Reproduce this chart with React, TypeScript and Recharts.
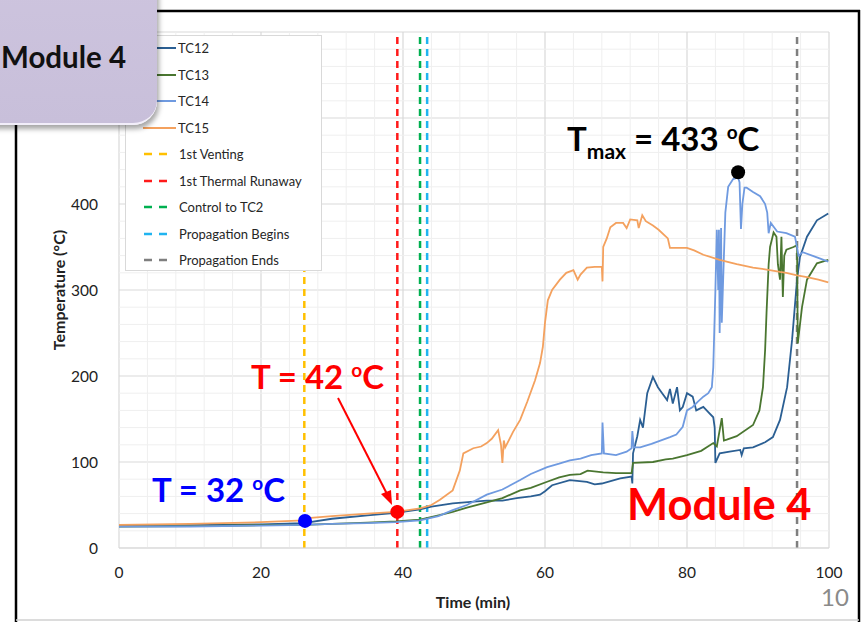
import React from 'react'
import {
  LineChart,
  Line,
  XAxis,
  YAxis,
  CartesianGrid,
  ReferenceLine,
  ReferenceDot,
} from 'recharts'

// Time (min) / temperature (°C) pairs
const tc12 = [
  [0, 26], [10, 26.5], [20, 27.5], [26, 29], [30, 34], [35, 38], [39, 41], [42.4, 45],
  [44, 48], [47, 52], [50, 54], [51.8, 55], [54, 55], [56, 58], [58, 60], [59.3, 62],
  [60, 66], [61, 73], [63.5, 79], [65.9, 77], [67, 74], [68, 75], [70.6, 81], [72.2, 83],
  [72.3, 75], [72.4, 110], [73, 130], [73.4, 149], [73.8, 140], [74.4, 180], [75.2, 199],
  [75.9, 187], [76.5, 180], [77.2, 172], [77.6, 185], [78, 168], [78.6, 187], [79, 160],
  [79.4, 164], [80, 180], [80.8, 176], [81.3, 160], [82.3, 164], [83, 158], [83.7, 152],
  [83.9, 140], [84, 99], [84.6, 110], [86, 112], [87.5, 114], [87.7, 108], [88, 116],
  [89.3, 117], [91, 123], [92.1, 129], [93.1, 149], [94.1, 187], [94.8, 242], [95.5, 312],
  [95.9, 338], [96.9, 362], [98.3, 381], [99.9, 389],
]
const tc13 = [
  [0, 25], [10, 25.5], [20, 26.5], [26, 27], [30, 28], [35, 29.5], [39, 31], [42.4, 33],
  [45, 38], [47, 42], [49, 47], [51.8, 53], [54, 58], [56.5, 67], [58, 70], [60.3, 77],
  [62, 82], [63.5, 85], [65, 86], [66, 90], [68.2, 88], [70, 87], [72.2, 87], [72.4, 99],
  [75.2, 100], [77, 103], [78, 104], [80, 108], [82, 113], [83.7, 122], [84.2, 118],
  [84.9, 151], [85.2, 125], [85.6, 126], [87, 130], [89.3, 143], [90.2, 160], [90.7, 187],
  [91, 230], [91.2, 273], [91.5, 330], [91.7, 350], [92.2, 367], [92.6, 362], [92.8, 330],
  [93.1, 312], [93.3, 362], [93.5, 292], [93.7, 340], [94, 347], [95, 350], [95.5, 352],
  [95.6, 238], [96.2, 280], [96.9, 312], [98.3, 331], [99.9, 335],
]
const tc14 = [
  [0, 25], [10, 25], [20, 26], [26, 27], [30, 28], [35, 29], [39, 30], [42.4, 32],
  [45, 37], [47, 44], [49, 50], [51.8, 62], [54, 68], [56.5, 79], [58, 86], [60.3, 94],
  [62, 98], [63.5, 102], [65, 104], [66.5, 108], [68, 110], [68.1, 146], [68.3, 110],
  [70, 108], [71.5, 112], [72.2, 116], [72.3, 136], [72.5, 117], [73.4, 117], [75, 121],
  [77.6, 129], [78.5, 132], [79.4, 141], [80, 160], [80.8, 164], [81.5, 170], [82.3, 176],
  [83, 180], [83.5, 187], [83.7, 210], [84, 300], [84.2, 370], [84.4, 300], [84.5, 370],
  [84.6, 250], [84.8, 372], [84.9, 262], [85.2, 340], [85.4, 390], [85.8, 420], [86.5, 429],
  [87.2, 431], [87.4, 425], [87.6, 371], [87.8, 400], [88.1, 419], [88.4, 419], [89.3, 414],
  [90.3, 409], [91, 400], [91.3, 390], [91.5, 366], [91.8, 378], [92.7, 368], [94, 366],
  [95.2, 362], [95.5, 350], [95.7, 340], [96.3, 344], [98.3, 338], [99.9, 333],
]
const tc15 = [
  [0, 27], [10, 28], [20, 30], [26, 32], [27, 35], [30, 37], [35, 40], [39, 42], [42.4, 46],
  [44, 50], [45.2, 56], [47, 67], [48, 90], [48.5, 110], [49.9, 116], [51, 118], [51.8, 122],
  [52.5, 127], [53.4, 137], [53.8, 120], [54, 99], [54.2, 125], [54.4, 117], [55.5, 135],
  [56.5, 149], [57.5, 170], [58.6, 195], [59.3, 215], [59.7, 234], [60, 262], [60.4, 288],
  [61, 300], [62.1, 312], [63, 320], [64, 323], [64.6, 312], [65, 318], [65.9, 326],
  [67, 327], [68, 327], [68.1, 310], [68.2, 350], [68.7, 360], [69.2, 373], [70, 378],
  [71, 378], [71.5, 372], [72, 382], [73, 381], [73.2, 372], [73.7, 387], [74.2, 380],
  [75.2, 375], [76, 370], [77.3, 360], [77.6, 349], [78.7, 349], [80, 349], [81, 346],
  [82.3, 341], [84.6, 335], [86, 332], [87, 330], [89.3, 326], [91, 324], [93.1, 321],
  [94, 320], [95.5, 317], [96.9, 315], [98.5, 312], [99.9, 309],
]

const seriesNames = ['TC12', 'TC13', 'TC14', 'TC15']
const seriesData = [tc12, tc13, tc14, tc15]

const eventNames = ['1st Venting', '1st Thermal Runaway', 'Control to TC2', 'Propagation Begins', 'Propagation Ends']
const eventTimes = [26.1, 39.2, 42.4, 43.4, 95.5]

// annotated points: venting, first runaway, max
const markTimes = [26.2, 39.2, 87.2]
const markTemps = [31.5, 42, 437]

const xTicks = [0, 20, 40, 60, 80, 100]
const yTicks = [0, 100, 200, 300, 400, 500, 600]

const seriesColors = ['#2b5f93', '#4a7630', '#6f9ae0', '#f4a15e']
const eventColors = ['#ffc000', '#ff1a1a', '#00b050', '#20b4f0', '#7f7f7f']
const markColors = ['#0000ff', '#ff0000', '#000000']

const FONT = 'Lato, "Open Sans", sans-serif'

// minor gridlines: 5 per major x step, 5 per major y step
const minorX = xTicks.slice(0, -1).flatMap((v) => [4, 8, 12, 16].map((d) => v + d))
const minorY = yTicks.slice(0, -1).flatMap((v) => [20, 40, 60, 80].map((d) => v + d))

function toPoints(arr: number[][]) {
  return arr.map(([t, v]) => ({ t, v }))
}

function LegendBox() {
  return (
    <div
      style={{
        position: 'absolute',
        left: 125,
        top: 35,
        width: 197,
        height: 236,
        background: '#fff',
        border: '1px solid #d9d9d9',
        boxSizing: 'border-box',
        fontFamily: FONT,
        fontSize: 13,
        color: '#262626',
      }}
    >
      {seriesNames.map((n, i) => (
        <div key={n} style={{ position: 'absolute', left: 0, top: 3 + i * 26.5, height: 18, display: 'flex', alignItems: 'center' }}>
          <svg width={50} height={4}>
            <line x1={17} x2={50} y1={2} y2={2} stroke={seriesColors[i]} strokeWidth={2} />
          </svg>
          <span style={{ marginLeft: 2 }}>{n}</span>
        </div>
      ))}
      {eventNames.map((n, i) => (
        <div key={n} style={{ position: 'absolute', left: 0, top: 3 + (i + 4) * 26.5, height: 18, display: 'flex', alignItems: 'center' }}>
          <svg width={50} height={4}>
            <line x1={18} x2={44} y1={2} y2={2} stroke={eventColors[i]} strokeWidth={2.5} strokeDasharray="8 7" />
          </svg>
          <span style={{ marginLeft: 3 }}>{n}</span>
        </div>
      ))}
    </div>
  )
}

export default function App() {
  return (
    <div
      style={{
        position: 'absolute',
        left: 0,
        top: 0,
        width: 862,
        height: 622,
        overflow: 'hidden',
        background: '#fff',
        fontFamily: FONT,
      }}
    >
      <LineChart
        width={862}
        height={622}
        margin={{ top: 32, right: 33, bottom: 44, left: 0 }}
        style={{ fontFamily: FONT }}
      >
        {minorX.map((x) => (
          <ReferenceLine key={'mx' + x} x={x} stroke="#efefef" strokeWidth={1} />
        ))}
        {minorY.map((y) => (
          <ReferenceLine key={'my' + y} y={y} stroke="#efefef" strokeWidth={1} />
        ))}
        <CartesianGrid stroke="#d9d9d9" strokeWidth={1.2} />
        <XAxis
          type="number"
          dataKey="t"
          domain={[0, 100]}
          ticks={xTicks}
          height={30}
          tickLine={false}
          tickSize={0}
          tickMargin={19}
          axisLine={{ stroke: '#d9d9d9' }}
          tick={{ fill: '#222', fontSize: 15.5 }}
          allowDataOverflow
        />
        <YAxis
          type="number"
          domain={[0, 600]}
          ticks={yTicks}
          width={119}
          tickLine={false}
          tickSize={0}
          tickMargin={21}
          axisLine={false}
          tick={{ fill: '#222', fontSize: 15.5 }}
          allowDataOverflow
        />
        {eventTimes.map((t, i) => (
          <ReferenceLine
            key={'ev' + i}
            x={t}
            stroke={eventColors[i]}
            strokeWidth={2.5}
            strokeDasharray="7 5"
          />
        ))}
        {seriesData.map((d, i) => (
          <Line
            key={seriesNames[i]}
            data={toPoints(d)}
            dataKey="v"
            name={seriesNames[i]}
            type="linear"
            stroke={seriesColors[i]}
            strokeWidth={1.8}
            dot={false}
            activeDot={false}
            isAnimationActive={false}
          />
        ))}
        {markTimes.map((t, i) => (
          <ReferenceDot
            key={'mk' + i}
            x={t}
            y={markTemps[i]}
            r={7}
            fill={markColors[i]}
            stroke="none"
          />
        ))}
      </LineChart>

      {/* axis titles */}
      <div
        style={{
          position: 'absolute',
          left: 58,
          top: 290,
          transform: 'translate(-50%, -50%) rotate(-90deg)',
          fontSize: 16,
          fontWeight: 700,
          color: '#222',
          whiteSpace: 'nowrap',
        }}
      >
        Temperature (°C)
      </div>
      <div
        style={{
          position: 'absolute',
          left: 473,
          top: 601,
          transform: 'translate(-50%, -50%)',
          fontSize: 16,
          fontWeight: 700,
          color: '#222',
          whiteSpace: 'nowrap',
        }}
      >
        Time (min)
      </div>

      <LegendBox />

      {/* annotations */}
      <div style={{ position: 'absolute', left: 152, top: 473, fontSize: 33, fontWeight: 700, color: '#0000ff', whiteSpace: 'nowrap', lineHeight: 1 }}>
        T = 32 <sup style={{ fontSize: 19, verticalAlign: 12 }}>o</sup>C
      </div>
      <div style={{ position: 'absolute', left: 251, top: 360, fontSize: 33, fontWeight: 700, color: '#ff0000', whiteSpace: 'nowrap', lineHeight: 1 }}>
        T = 42 <sup style={{ fontSize: 19, verticalAlign: 12 }}>o</sup>C
      </div>
      <div style={{ position: 'absolute', left: 567, top: 122, fontSize: 33, fontWeight: 700, color: '#000', whiteSpace: 'nowrap', lineHeight: 1 }}>
        T<sub style={{ fontSize: 21, verticalAlign: -8 }}>max</sub> = 433 <sup style={{ fontSize: 19, verticalAlign: 12 }}>o</sup>C
      </div>
      <div style={{ position: 'absolute', left: 627, top: 482, fontSize: 43.5, fontWeight: 700, color: '#ff0000', whiteSpace: 'nowrap', lineHeight: 1 }}>
        Module 4
      </div>
      <svg width={862} height={622} style={{ position: 'absolute', left: 0, top: 0, pointerEvents: 'none' }}>
        <line x1={338} y1={398} x2={387} y2={494} stroke="#ff0000" strokeWidth={2} />
        <polygon points="392,505 381,494 391,490" fill="#ff0000" />
        {/* slide frame */}
        <line x1={150} y1={11} x2={860} y2={11} stroke="#000" strokeWidth={2.5} />
        <line x1={16} y1={120} x2={16} y2={622} stroke="#000" strokeWidth={2.5} />
        <line x1={859} y1={10} x2={859} y2={622} stroke="#000" strokeWidth={2.5} />
        <line x1={16} y1={620} x2={859} y2={620} stroke="#d0d0d0" strokeWidth={1.5} />
      </svg>

      {/* slide tab */}
      <div
        style={{
          position: 'absolute',
          left: -20,
          top: -20,
          width: 177,
          height: 145,
          background: 'linear-gradient(#cdc4de, #c8bfda)',
          borderBottomRightRadius: 24,
          boxShadow: '2px 4px 5px rgba(0,0,0,0.35)',
          borderBottom: '2px solid #f2eefa',
          boxSizing: 'border-box',
        }}
      />
      <div style={{ position: 'absolute', left: 1, top: 42, fontSize: 29.5, fontWeight: 700, color: '#111', whiteSpace: 'nowrap', lineHeight: 1 }}>
        Module 4
      </div>
      <div style={{ position: 'absolute', left: 821, top: 585, fontSize: 24, color: '#8a8a8a', lineHeight: 1 }}>
        10
      </div>
    </div>
  )
}
